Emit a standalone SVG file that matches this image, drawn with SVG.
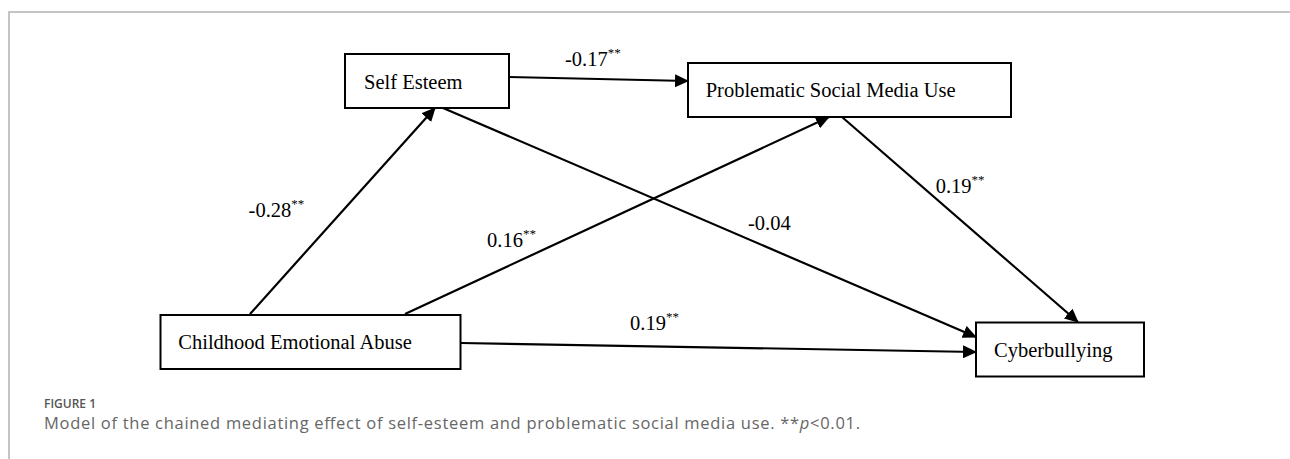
<svg xmlns="http://www.w3.org/2000/svg" width="1290" height="459" viewBox="0 0 1290 459">
<style>
.box{fill:#fff;stroke:#000;stroke-width:2}
.lbl{font-family:"Liberation Serif","Times New Roman",serif;font-size:20.5px;fill:#000}
.sup{font-size:13px}
.edge{stroke:#000;stroke-width:2.2;fill:none;marker-end:url(#arr)}
.frame{stroke:#c4c4c4;stroke-width:2;fill:none}
.figno{font-family:"Open Sans","Noto Sans",sans-serif;font-size:12px;font-weight:600;fill:#555}
.cap{font-family:"Open Sans","Noto Sans",sans-serif;font-size:16.5px;fill:#666}
</style>
<defs>
<marker id="arr" markerUnits="userSpaceOnUse" markerWidth="15" markerHeight="13" refX="13" refY="6.5" orient="auto">
<path d="M0,0 L14,6.5 L0,13 z" fill="#000"/>
</marker>
</defs>
<rect width="1290" height="459" fill="#fff"/>
<path class="frame" d="M9,459 V12 H1290"/>

<g id="connectors">
<line class="edge" x1="509" y1="77" x2="688" y2="81"/>
<line class="edge" x1="250" y1="314" x2="435" y2="108"/>
<line class="edge" x1="405" y1="314" x2="829" y2="117"/>
<line class="edge" x1="443" y1="108" x2="976" y2="337"/>
<line class="edge" x1="842" y1="117" x2="1078" y2="322"/>
<line class="edge" x1="461" y1="343" x2="976" y2="352"/>
<text class="lbl" x="565" y="65.7">-0.17<tspan class="sup" dy="-9">**</tspan></text>
<text class="lbl" x="248.6" y="216.7">-0.28<tspan class="sup" dy="-9">**</tspan></text>
<text class="lbl" x="487" y="246.7">0.16<tspan class="sup" dy="-9">**</tspan></text>
<text class="lbl" x="748" y="230">-0.04</text>
<text class="lbl" x="935.7" y="193.3">0.19<tspan class="sup" dy="-9">**</tspan></text>
<text class="lbl" x="630" y="329.5">0.19<tspan class="sup" dy="-9">**</tspan></text>
</g>

<g id="self-esteem">
<rect class="box" x="345" y="54" width="164" height="54"/>
<text class="lbl" x="364" y="89.3">Self Esteem</text>
</g>
<g id="problematic-social-media-use">
<rect class="box" x="688" y="63" width="323" height="54"/>
<text class="lbl" x="705.7" y="96.7">Problematic Social Media Use</text>
</g>
<g id="childhood-emotional-abuse">
<rect class="box" x="160.5" y="315" width="300" height="54"/>
<text class="lbl" x="178.3" y="349">Childhood Emotional Abuse</text>
</g>
<g id="cyberbullying">
<rect class="box" x="976" y="322.5" width="168" height="54"/>
<text class="lbl" x="994" y="357.3">Cyberbullying</text>
</g>

<g id="caption">
<text class="figno" x="44" y="408">FIGURE 1</text>
<text class="cap" x="44" y="429" textLength="816" lengthAdjust="spacing">Model of the chained mediating effect of self-esteem and problematic social media use. **<tspan font-style="italic">p</tspan>&lt;0.01.</text>
</g>
</svg>
